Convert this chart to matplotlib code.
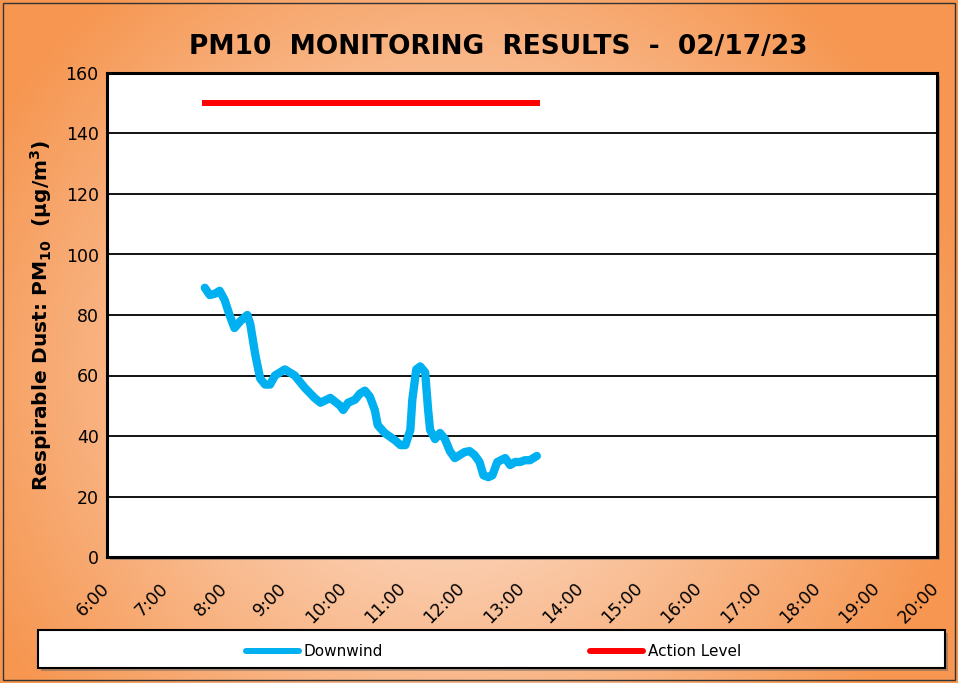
import matplotlib
matplotlib.use("Agg")
import matplotlib.pyplot as plt
import matplotlib.dates as mdates
from matplotlib.patches import Rectangle
from matplotlib.lines import Line2D
from matplotlib.transforms import ScaledTranslation
import numpy as np
import pandas as pd

# Downwind PM10 readings (time, ug/m3)
times = ["07:39", "07:44", "07:49", "07:54", "07:59", "08:04", "08:09", "08:15",
         "08:22", "08:25", "08:30", "08:35", "08:40", "08:45", "08:50", "09:00",
         "09:05", "09:10", "09:20", "09:30", "09:36", "09:46", "09:56", "09:59",
         "10:04", "10:11", "10:16", "10:21", "10:26", "10:31", "10:34", "10:41",
         "10:51", "10:57", "11:02", "11:07", "11:09", "11:13", "11:17", "11:22",
         "11:25", "11:27", "11:32", "11:37", "11:42", "11:47", "11:52", "11:57",
         "12:02", "12:07", "12:12", "12:17", "12:21", "12:26", "12:30", "12:35",
         "12:43", "12:48", "12:53", "12:58", "13:03", "13:08", "13:15"]
downwind = [89, 86.6, 87, 88, 85, 80, 75.7, 78,
            80, 77, 67, 59, 57, 57, 60, 62,
            61, 60, 56, 52.6, 51, 52.6, 50, 48.6,
            51, 52, 54, 55, 53, 48.6, 43.6, 41,
            38.7, 37, 37, 42, 52, 62, 63, 61,
            48.6, 42, 39, 41, 39, 35, 32.7, 33.7,
            34.7, 35, 33.7, 31.4, 27, 26.4, 27, 31.4,
            32.7, 30.4, 31.4, 31.4, 32, 32, 33.4]

action_times = ["07:39", "13:15"]
action_level = [150, 150]

tick_hours = list(range(6, 21))
y_ticks = list(range(0, 161, 20))

day = "2023-02-17 "
t_down = pd.to_datetime([day + t for t in times])
t_action = pd.to_datetime([day + t for t in action_times])
x_ticks = pd.to_datetime([day + f"{h:02d}:00" for h in tick_hours])

W, H = 958, 683
fig = plt.figure(figsize=(W / 100, H / 100), dpi=100)

# radial orange gradient background
bg = fig.add_axes([0, 0, 1, 1], zorder=-10)
yy, xx = np.mgrid[0:H, 0:W]
r = np.sqrt(((xx - W * 0.47) / (W * 0.55)) ** 2 + ((yy - H * 0.55) / (H * 0.75)) ** 2)
r = np.clip(r, 0, 1)
inner = np.array([253, 234, 224]) / 255
outer = np.array([246, 150, 80]) / 255
img = inner[None, None, :] * (1 - r[..., None]) + outer[None, None, :] * r[..., None]
bg.imshow(img, extent=[0, W, H, 0], aspect="auto")
bg.add_patch(Rectangle((3, 3), W - 6, H - 6, fill=False, ec="#333333", lw=1.0))
bg.set_xlim(0, W)
bg.set_ylim(H, 0)
bg.axis("off")

# plot area shadow
bg.add_patch(Rectangle((110, 76), 830, 484, fc="#666666", ec="none", alpha=0.5))

ax = fig.add_axes([107 / W, 1 - 557 / H, 830 / W, 484 / H])
ax.set_facecolor("white")
ax.plot(t_down, downwind, color="#00b0f0", lw=6, solid_capstyle="round",
        solid_joinstyle="round", label="Downwind")
ax.plot(t_action, action_level, color="#ff0000", lw=4.3, label="Action Level")

ax.set_ylim(0, 160)
ax.set_yticks(y_ticks)
ax.set_xlim(x_ticks[0], x_ticks[-1])
ax.set_xticks(x_ticks)
ax.xaxis.set_major_formatter(mdates.DateFormatter("%-H:%M"))
ax.grid(axis="y", color="black", lw=1.3)
ax.set_axisbelow(True)
for s in ax.spines.values():
    s.set_linewidth(2.2)
    s.set_color("black")
ax.tick_params(axis="y", length=0, pad=6, labelsize=12.5)
ax.tick_params(axis="x", length=0, pad=16, labelsize=12.5)
shift = ScaledTranslation(-0.07, 0, fig.dpi_scale_trans)
for lbl in ax.get_xticklabels():
    lbl.set_rotation(45)
    lbl.set_ha("right")
    lbl.set_va("top")
    lbl.set_rotation_mode("anchor")
    lbl.set_transform(lbl.get_transform() + shift)

ax.set_ylabel("Respirable Dust: PM$_{\\mathbf{10}}$  (µg/m$^\\mathbf{3}$)",
              fontsize=14.5, fontweight="bold", labelpad=8)

fig.text(0.52, 1 - 47 / H, "PM10  MONITORING  RESULTS  -  02/17/23",
         ha="center", va="center", fontsize=19, fontweight="bold")

# legend box
bg.add_patch(Rectangle((41, 633), 907, 38, fc="#666666", ec="none", alpha=0.5))
bg.add_patch(Rectangle((38, 630), 907, 38, fc="white", ec="black", lw=1.5))
handles = [Line2D([], [], color="#00b0f0", lw=4.3, solid_capstyle="round"),
           Line2D([], [], color="#ff0000", lw=4.3, solid_capstyle="round")]
fig.legend(handles, ["Downwind", "Action Level"], loc="center",
           bbox_to_anchor=(0.515, 1 - 652 / H), ncol=2, frameon=False,
           fontsize=11, handlelength=3.5, handletextpad=0.3, columnspacing=13.5)

fig.savefig("out.png", dpi=100)
